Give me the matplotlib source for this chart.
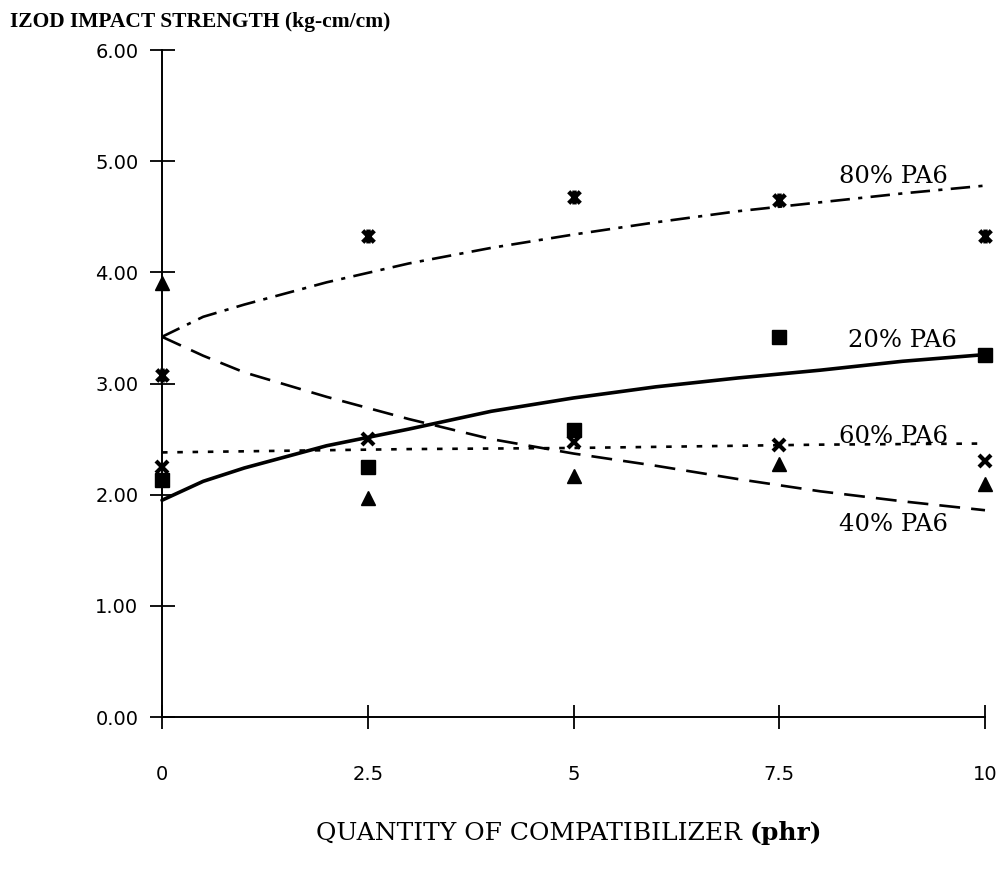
import matplotlib
matplotlib.use("Agg")
import matplotlib.pyplot as plt
from matplotlib.path import Path
import numpy as np

plt.rcParams['lines.scale_dashes'] = False

# ---- data: measured points ----
x_pts = [0, 2.5, 5, 7.5, 10]
pa20_pts = [2.13, 2.25, 2.58, 3.42, 3.26]
pa40_pts = [3.90, 1.97, 2.17, 2.28, 2.10]
pa60_pts = [2.25, 2.50, 2.47, 2.45, 2.30]
pa80_pts = [3.08, 4.33, 4.68, 4.65, 4.33]

# ---- data: trend curves ----
x_fit = [0, 0.5, 1, 1.5, 2, 3, 4, 5, 6, 7, 8, 9, 10]
pa20_fit = [1.95, 2.12, 2.24, 2.34, 2.44, 2.59, 2.75, 2.87, 2.97, 3.05, 3.12, 3.20, 3.26]
pa40_fit = [3.42, 3.25, 3.10, 2.99, 2.88, 2.68, 2.50, 2.37, 2.26, 2.14, 2.03, 1.94, 1.86]
pa60_fit = [2.38, 2.385, 2.39, 2.395, 2.40, 2.41, 2.415, 2.42, 2.43, 2.44, 2.45, 2.455, 2.46]
pa80_fit = [3.42, 3.60, 3.71, 3.81, 3.91, 4.08, 4.22, 4.34, 4.45, 4.55, 4.63, 4.71, 4.78]

series_labels = ["20% PA6", "40% PA6", "60% PA6", "80% PA6"]
x_ticks = [0, 2.5, 5, 7.5, 10]
x_ticklabels = ["0", "2.5", "5", "7.5", "10"]
y_ticks = [0, 1, 2, 3, 4, 5, 6]

fig = plt.figure(figsize=(10.03, 8.80), dpi=100)
ax = fig.add_axes([162/1003, 1-717/880, (985-162)/1003, (717-50)/880])

ax.set_xlim(0, 10)
ax.set_ylim(0, 6)

# curves
ax.plot(x_fit, pa20_fit, color='black', lw=2.6, solid_capstyle='round', clip_on=False)
ax.plot(x_fit, pa40_fit, color='black', lw=1.9, dashes=(15, 8), clip_on=False)
ax.plot(x_fit, pa60_fit, color='black', lw=1.9, dashes=(4, 7), clip_on=False)
ax.plot(x_fit, pa80_fit, color='black', lw=1.9, dashes=(14, 6, 3, 6), clip_on=False)

# star marker (x with vertical line)
star = Path([(-1, -1), (1, 1), (-1, 1), (1, -1), (0, -1.2), (0, 1.2)],
            [Path.MOVETO, Path.LINETO, Path.MOVETO, Path.LINETO, Path.MOVETO, Path.LINETO])

ax.plot(x_pts, pa20_pts, 's', color='black', ms=9.5, clip_on=False, zorder=5)
ax.plot(x_pts, pa40_pts, '^', color='black', ms=10.5, clip_on=False, zorder=5)
ax.plot(x_pts, pa60_pts, 'x', color='black', ms=9, mew=3, clip_on=False, zorder=5)
ax.plot(x_pts, pa80_pts, marker=star, ls='none', color='black', ms=10, mew=3.2,
        clip_on=False, zorder=5)

# series labels
lab_font = dict(family='DejaVu Serif', fontsize=17.5, color='black')
ax.text(8.22, 4.86, series_labels[3], **lab_font, va='center')
ax.text(8.34, 3.39, series_labels[0], **lab_font, va='center')
ax.text(8.22, 2.52, series_labels[2], **lab_font, va='center')
ax.text(8.22, 1.73, series_labels[1], **lab_font, va='center')

# axes styling
for s in ['top', 'right']:
    ax.spines[s].set_visible(False)
ax.spines['left'].set_linewidth(1.4)
ax.spines['bottom'].set_linewidth(1.4)

ax.set_xticks(x_ticks)
ax.set_xticklabels(x_ticklabels)
ax.set_yticks(y_ticks)
ax.set_yticklabels(["%.2f" % v for v in y_ticks])
ax.tick_params(axis='y', direction='inout', length=18, width=1.3, pad=8,
               labelsize=14)
ax.tick_params(axis='x', direction='inout', length=17, width=1.3, pad=26,
               labelsize=14)
for t in ax.get_xticklabels() + ax.get_yticklabels():
    t.set_fontfamily('DejaVu Sans')

# titles
fig.text(10/1003, 1-22/880, "IZOD IMPACT STRENGTH (kg-cm/cm)", family='Liberation Serif',
         fontweight='bold', fontsize=15.5, va='center', ha='left')

fig.canvas.draw()
renderer = fig.canvas.get_renderer()
t1 = fig.text(316/1003, 1-833/880, "QUANTITY OF COMPATIBILIZER ", family='DejaVu Serif',
              fontsize=18, va='center', ha='left')
bb = t1.get_window_extent(renderer=renderer)
fig.text(bb.x1/1003, 1-833/880, "(phr)", family='DejaVu Serif', fontweight='bold',
         fontsize=18, va='center', ha='left')

fig.savefig("out.png", dpi=100, facecolor='white')
